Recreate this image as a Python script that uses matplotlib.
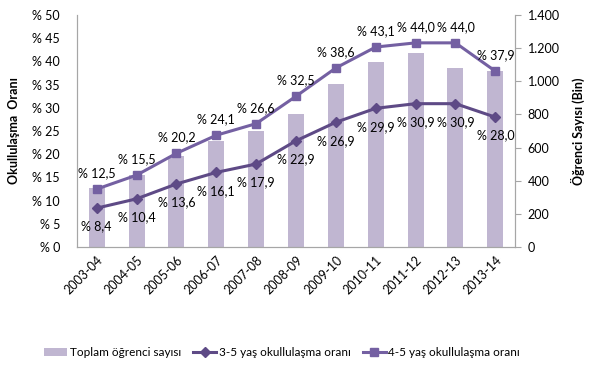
import matplotlib
matplotlib.use("Agg")
import matplotlib.pyplot as plt
import numpy as np

categories = ["2003-04", "2004-05", "2005-06", "2006-07", "2007-08", "2008-09",
              "2009-10", "2010-11", "2011-12", "2012-13", "2013-14"]
students = [356, 435, 549, 640, 700, 802, 983, 1116, 1170, 1080, 1062]
rate_35 = [8.4, 10.4, 13.6, 16.1, 17.9, 22.9, 26.9, 29.9, 30.9, 30.9, 28.0]
rate_45 = [12.5, 15.5, 20.2, 24.1, 26.6, 32.5, 38.6, 43.1, 44.0, 44.0, 37.9]
left_ticks = list(range(0, 55, 5))
right_ticks = list(range(0, 1600, 200))

plt.rcParams['font.family'] = ['Lato', 'DejaVu Sans']

bar_c = "#C0B6D1"
c35 = "#5E4A86"
c45 = "#7460A2"
gray = "#A6A6A6"
fs = 9

fig = plt.figure(figsize=(5.95, 3.75), dpi=100)
ax = fig.add_axes([0.129, 0.341, 0.737, 0.619])
ax2 = ax.twinx()

x = np.arange(len(categories))
ax2.bar(x, students, width=0.4, color=bar_c, zorder=1, label="Toplam öğrenci sayısı")
ax2.set_ylim(0, 1400)
ax2.set_yticks(right_ticks)
ax2.set_yticklabels([f"{v:,}".replace(",", ".") for v in right_ticks], fontsize=fs)
ax2.set_ylabel("Öğrenci Sayısı (Bin)", fontsize=fs, fontweight="bold", labelpad=8)
ax2.tick_params(axis='y', length=4, color=gray, pad=5)

ax.set_zorder(ax2.get_zorder() + 1)
ax.patch.set_visible(False)
l1, = ax.plot(x, rate_35, color=c35, lw=2.2, marker="D", ms=5.5, label="3-5 yaş okullulaşma oranı")
l2, = ax.plot(x, rate_45, color=c45, lw=2.2, marker="s", ms=5.5, label="4-5 yaş okullulaşma oranı")
ax.set_ylim(0, 50)
ax.set_xlim(-0.5, len(categories) - 0.5)
ax.set_yticks(left_ticks)
ax.set_yticklabels([f"% {v}" for v in left_ticks], fontsize=fs)
ax.tick_params(axis='y', length=0, pad=12)
ax.set_ylabel("Okullulaşma  Oranı", fontsize=fs, fontweight="bold", labelpad=9)
ax.set_xticks(x)
ax.set_xticklabels(categories, rotation=45, ha="right", rotation_mode="anchor", fontsize=fs)
ax.tick_params(axis='x', length=0, pad=5)

for a in (ax, ax2):
    a.spines['top'].set_visible(False)
    for s in ('left', 'right', 'bottom'):
        a.spines[s].set_color(gray)

for xi, v in zip(x, rate_45):
    ax.annotate(f"% {v:.1f}".replace(".", ","), (xi, v), xytext=(0, 7),
                textcoords="offset points", ha="center", va="bottom", fontsize=fs)
for xi, v in zip(x, rate_35):
    ax.annotate(f"% {v:.1f}".replace(".", ","), (xi, v), xytext=(0, -9),
                textcoords="offset points", ha="center", va="top", fontsize=fs)

bars = ax2.patches[0]
fig.legend([bars, l1, l2], ["Toplam öğrenci sayısı", "3-5 yaş okullulaşma oranı", "4-5 yaş okullulaşma oranı"],
           loc="center", bbox_to_anchor=(0.474, 0.06), ncol=3, frameon=False, fontsize=8.5,
           handlelength=2.0, columnspacing=1.0, handletextpad=0.2)

fig.savefig("out.png", dpi=100)
